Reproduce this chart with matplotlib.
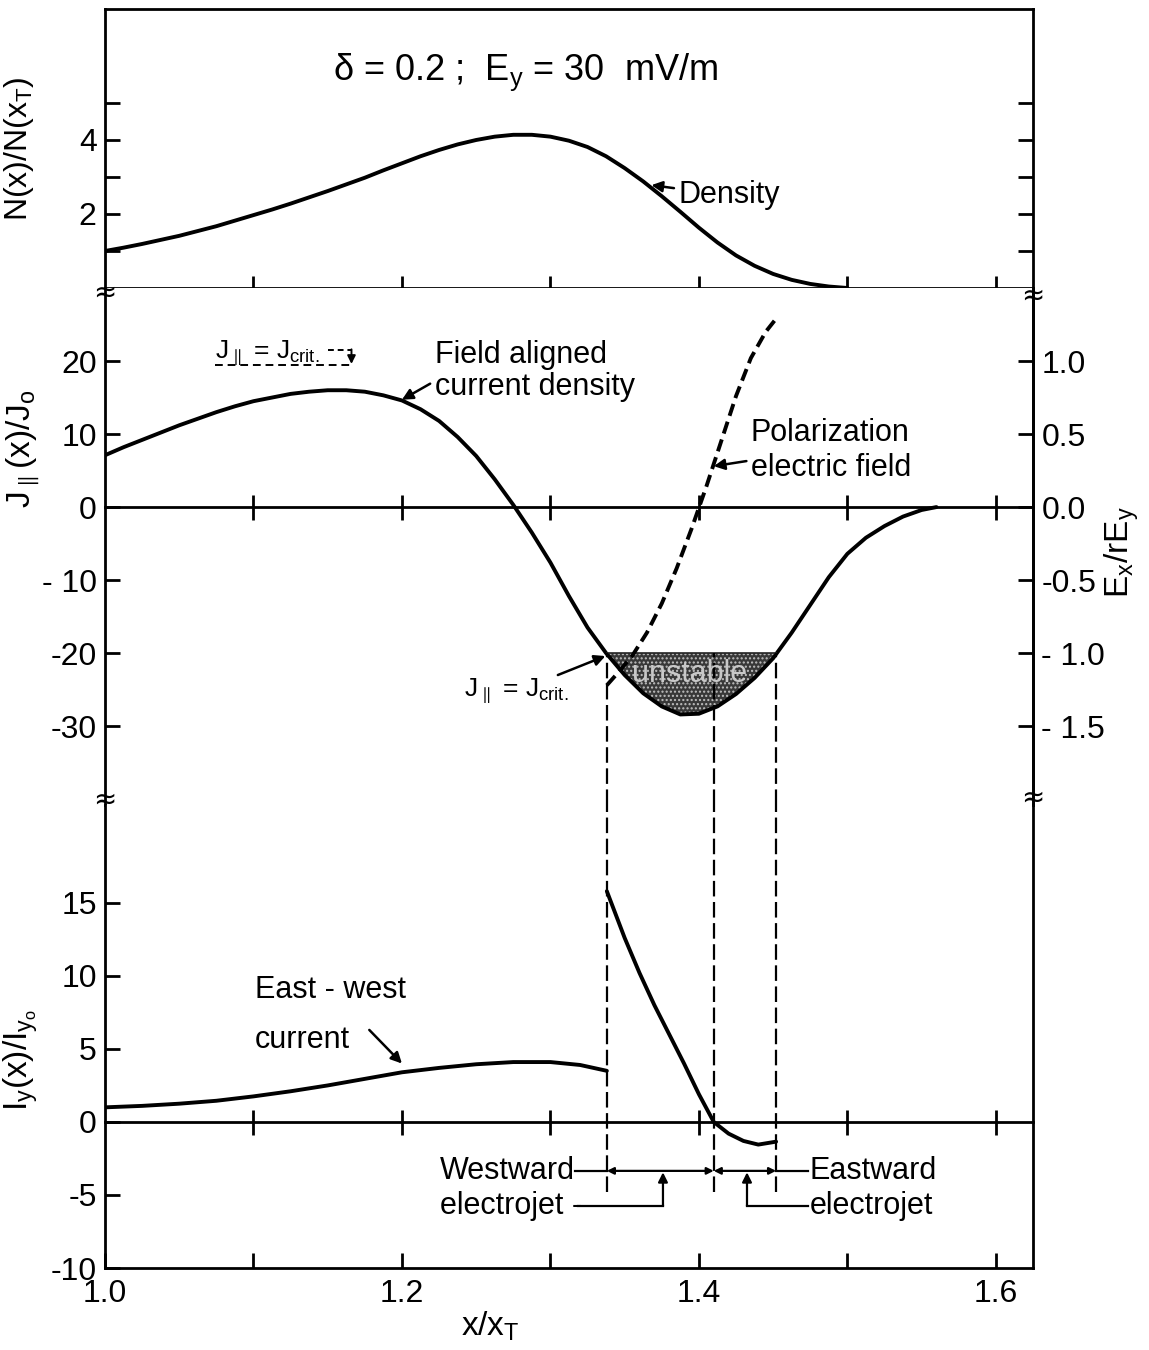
import matplotlib
matplotlib.use('Agg')
import matplotlib.pyplot as plt
import numpy as np

plt.rcParams['font.family'] = ['Liberation Sans', 'DejaVu Sans']
plt.rcParams['mathtext.default'] = 'regular'
plt.rcParams['hatch.linewidth'] = 1.0

# ---------------- data ----------------
dens_x = [1.000, 1.0125, 1.025, 1.0375, 1.050, 1.0625, 1.075, 1.0875, 1.100, 1.1125,
          1.125, 1.1375, 1.150, 1.1625, 1.175, 1.1875, 1.200, 1.2125, 1.225, 1.2375,
          1.250, 1.2625, 1.275, 1.2875, 1.300, 1.3125, 1.325, 1.3375, 1.350, 1.3625,
          1.375, 1.3875, 1.400, 1.4125, 1.425, 1.4375, 1.450, 1.4625, 1.475, 1.4875,
          1.500]
dens_n = [1.00, 1.09, 1.19, 1.30, 1.41, 1.54, 1.67, 1.82, 1.97, 2.12,
          2.28, 2.45, 2.62, 2.80, 2.98, 3.18, 3.37, 3.56, 3.73, 3.88,
          4.00, 4.09, 4.14, 4.14, 4.09, 3.98, 3.81, 3.56, 3.24, 2.88,
          2.48, 2.06, 1.63, 1.23, 0.88, 0.60, 0.38, 0.22, 0.11, 0.04,
          0.00]

j_x = [1.000, 1.0125, 1.025, 1.0375, 1.050, 1.0625, 1.075, 1.0875, 1.100, 1.1125,
       1.125, 1.1375, 1.150, 1.1625, 1.175, 1.1875, 1.200, 1.2125, 1.225, 1.2375,
       1.250, 1.2625, 1.275, 1.2875, 1.300, 1.3125, 1.325, 1.3375, 1.350, 1.3625,
       1.375, 1.3875, 1.400, 1.4125, 1.425, 1.4375, 1.450, 1.4625, 1.475, 1.4875,
       1.500, 1.5125, 1.525, 1.5375, 1.550, 1.560]
j_val = [7.1, 8.2, 9.2, 10.2, 11.2, 12.1, 13.0, 13.8, 14.5, 15.0,
         15.5, 15.8, 16.0, 16.0, 15.8, 15.3, 14.6, 13.4, 11.8, 9.6,
         7.0, 3.8, 0.3, -3.5, -7.6, -12.2, -16.5, -20.0, -23.0, -25.5,
         -27.3, -28.4, -28.3, -27.3, -25.6, -23.4, -20.7, -17.2, -13.4, -9.6,
         -6.4, -4.2, -2.6, -1.3, -0.4, 0.0]
j_crit = -20.0

e_x = [1.338, 1.345, 1.355, 1.365, 1.375, 1.385, 1.395, 1.405, 1.415, 1.425,
       1.435, 1.445, 1.452]
e_val = [-1.22, -1.14, -1.02, -0.86, -0.66, -0.42, -0.15, 0.14, 0.45, 0.76,
         1.02, 1.20, 1.29]

iy_west_x = [1.000, 1.025, 1.050, 1.075, 1.100, 1.125, 1.150, 1.175, 1.200, 1.225,
             1.250, 1.275, 1.300, 1.320, 1.338]
iy_west = [1.0, 1.1, 1.25, 1.45, 1.75, 2.1, 2.5, 2.95, 3.4, 3.7,
           3.95, 4.1, 4.1, 3.9, 3.5]
iy_east_x = [1.338, 1.350, 1.360, 1.370, 1.380, 1.390, 1.400, 1.410, 1.420, 1.430,
             1.440, 1.452]
iy_east = [15.8, 12.6, 10.2, 8.0, 6.0, 4.0, 1.9, 0.0, -0.8, -1.3, -1.55, -1.35]

boundaries = [1.338, 1.410, 1.452]

x_ticks = [1.1, 1.2, 1.3, 1.4, 1.5, 1.6]
x_ticks_bottom = [1.0, 1.1, 1.2, 1.3, 1.4, 1.5, 1.6]
x_ticklabels_bottom = ['1.0', '', '1.2', '', '1.4', '', '1.6']
n_ticks = [1, 2, 3, 4, 5]
n_ticklabels = ['', '2', '', '4', '']
j_ticks = [-30, -20, -10, 0, 10, 20]
j_ticklabels = ['-30', '-20', '- 10', '0', '10', '20']
e_ticks = [-1.5, -1.0, -0.5, 0.0, 0.5, 1.0]
e_ticklabels = ['- 1.5', '- 1.0', '-0.5', '0.0', '0.5', '1.0']
i_ticks = [-10, -5, 0, 5, 10, 15]
i_ticklabels = ['-10', '-5', '0', '5', '10', '15']

# ---------------- layout ----------------
XLIM = (1.0, 1.625)
N_LIM = (0, 7.54)
J_LIM = (-40.8, 30.0)
I_LIM = (-10, 21.7)

fig = plt.figure(figsize=(11.49, 13.5), dpi=100)
L, W = 0.0914, 0.8076
ax1 = fig.add_axes([L, 0.78667, W, 0.20667])
ax2 = fig.add_axes([L, 0.40370, W, 0.38296])
ax3 = fig.add_axes([L, 0.06074, W, 0.34296])

SW = 2.0
LW = 2.8
FS_T = 23
FS_A = 22
ARW = dict(arrowstyle='-|>', lw=1.8, color='k', mutation_scale=16, shrinkA=0, shrinkB=0)

for ax in (ax1, ax2, ax3):
    ax.set_xlim(*XLIM)
    for s in ax.spines.values():
        s.set_linewidth(SW)

# ---- top panel: density ----
ax1.plot(dens_x, dens_n, color='k', lw=LW, solid_capstyle='round')
ax1.set_ylim(*N_LIM)
ax1.set_yticks(n_ticks)
ax1.set_yticklabels(n_ticklabels)
ax1.tick_params(axis='y', direction='in', length=11, width=SW, left=True, right=True,
                labelsize=FS_T, pad=6)
ax1.set_xticks(x_ticks)
ax1.tick_params(axis='x', direction='inout', length=18, width=SW, top=False,
                labelbottom=False)
ax1.set_ylabel('N(x)/N(x$_T$)', fontsize=FS_A + 1)
ax1.yaxis.set_label_coords(-0.074, 0.5)
ax1.text(1.283, 5.84, r'$\delta$ = 0.2 ;  E$_y$ = 30  mV/m', fontsize=26,
         ha='center', va='center')
ax1.annotate('Density', xy=(1.368, 2.78), xytext=(1.386, 2.5), fontsize=FS_A,
             ha='left', va='center',
             arrowprops=dict(ARW, shrinkA=1))

# ---- middle panel: field-aligned current ----
ax2.set_ylim(*J_LIM)
ax2.plot(j_x, j_val, color='k', lw=LW, solid_capstyle='round')
jx = np.array(j_x)
jv = np.array(j_val)
ax2.fill_between(jx, jv, j_crit, where=jv < j_crit, interpolate=True,
                 facecolor='#383838', edgecolor='#c0c0c0', hatch='....', lw=0)
ax2.plot([boundaries[0], boundaries[2]], [j_crit, j_crit], color='#222222', lw=1.2)
ax2.text(1.394, -22.9, 'unstable', fontsize=FS_A, ha='center', va='center',
         color='#c8c8c8')
ax2.spines['top'].set_visible(False)
ax2.spines['bottom'].set_position(('data', 0))
ax2.set_xticks(x_ticks)
ax2.tick_params(axis='x', direction='inout', length=18, width=SW, labelbottom=False)
ax2.set_yticks(j_ticks)
ax2.set_yticklabels(j_ticklabels)
ax2.tick_params(axis='y', direction='in', length=11, width=SW, right=False,
                labelsize=FS_T, pad=6)
ax2.set_ylabel(r'J$_{\parallel}$(x)/J$_o$', fontsize=FS_A + 2)
ax2.yaxis.set_label_coords(-0.068, 0.69)
ax2.vlines(boundaries, J_LIM[0], j_crit, colors='k', lw=1.6,
           linestyles=(0, (7, 2.5)))

ax2r = ax2.twinx()
ax2r.set_ylim(J_LIM[0] / 20.0, J_LIM[1] / 20.0)
ax2r.plot(e_x, e_val, color='k', lw=LW, linestyle=(0, (3.2, 1.6)))
for k in ('top', 'bottom', 'left'):
    ax2r.spines[k].set_visible(False)
ax2r.spines['right'].set_linewidth(SW)
ax2r.set_yticks(e_ticks)
ax2r.set_yticklabels(e_ticklabels)
ax2r.tick_params(axis='y', direction='in', length=11, width=SW, labelsize=FS_T, pad=6)
ax2r.set_ylabel('E$_x$/rE$_y$', fontsize=FS_A + 2, rotation=90)
ax2r.yaxis.set_label_coords(1.075, 0.49)

# annotations in the middle panel
ax2.text(1.074, 21.2, r'J$_{\parallel}$ = J$_{crit.}$', fontsize=19, ha='left',
         va='center')
ax2.plot([1.074, 1.166], [19.4, 19.4], color='k', lw=1.4, linestyle=(0, (4, 2.5)))
ax2.plot([1.150, 1.166], [21.5, 21.5], color='k', lw=1.4, linestyle=(0, (3, 2)))
ax2.annotate('', xy=(1.166, 19.6), xytext=(1.166, 21.6),
             arrowprops=dict(ARW, lw=1.4, mutation_scale=12))
ax2.text(1.222, 20.8, 'Field aligned', fontsize=FS_A, ha='left', va='center')
ax2.text(1.222, 16.4, 'current density', fontsize=FS_A, ha='left', va='center')
ax2.annotate('', xy=(1.200, 14.7), xytext=(1.219, 16.9), arrowprops=ARW)
ax2.text(1.435, 10.1, 'Polarization', fontsize=FS_A, ha='left', va='center')
ax2.text(1.435, 5.3, 'electric field', fontsize=FS_A, ha='left', va='center')
ax2.annotate('', xy=(1.410, 5.6), xytext=(1.432, 6.3), arrowprops=ARW)
ax2.text(1.242, -25.1, r'J$_{\parallel}$ = J$_{crit.}$', fontsize=19, ha='left',
         va='center')
ax2.annotate('', xy=(1.337, -20.4), xytext=(1.305, -23.0), arrowprops=ARW)

# ---- bottom panel: east-west current ----
ax3.set_ylim(*I_LIM)
ax3.plot(iy_west_x, iy_west, color='k', lw=LW, solid_capstyle='round')
ax3.plot(iy_east_x, iy_east, color='k', lw=LW, solid_capstyle='round')
ax3.spines['top'].set_visible(False)
ax3.set_xticks(x_ticks_bottom)
ax3.set_xticklabels(x_ticklabels_bottom)
ax3.tick_params(axis='x', direction='in', length=11, width=SW, labelsize=FS_T, pad=8)
ax3.set_yticks(i_ticks)
ax3.set_yticklabels(i_ticklabels)
ax3.tick_params(axis='y', direction='in', length=11, width=SW, right=False,
                labelsize=FS_T, pad=6)
ax3.set_ylabel('I$_y$(x)/I$_{y_o}$', fontsize=FS_A + 2)
ax3.yaxis.set_label_coords(-0.07, 0.45)
ax3.set_xlabel('x/x$_T$', fontsize=FS_A + 2)
ax3.xaxis.set_label_coords(0.415, -0.09)
zero_frac = (0 - I_LIM[0]) / (I_LIM[1] - I_LIM[0])
sec = ax3.secondary_xaxis(zero_frac)
sec.spines['bottom'].set_linewidth(SW)
sec.spines['top'].set_linewidth(SW)
sec.set_xticks(x_ticks)
sec.tick_params(axis='x', direction='inout', length=18, width=SW,
                labeltop=False, labelbottom=False)
ax3.vlines(boundaries, -4.8, I_LIM[1], colors='k', lw=1.6,
           linestyles=(0, (7, 2.5)))

ax3.text(1.101, 9.0, 'East - west', fontsize=FS_A, ha='left', va='center')
ax3.text(1.101, 5.6, 'current', fontsize=FS_A, ha='left', va='center')
ax3.annotate('', xy=(1.200, 4.0), xytext=(1.178, 6.3), arrowprops=ARW)

ydim = -3.35
ylow = -5.75
ax3.text(1.2256, ydim, 'Westward', fontsize=FS_A, ha='left', va='center')
ax3.text(1.2256, ylow, 'electrojet -', fontsize=FS_A, ha='left', va='center')
ax3.text(1.4745, ydim, 'Eastward', fontsize=FS_A, ha='left', va='center')
ax3.text(1.4745, ylow, 'electrojet', fontsize=FS_A, ha='left', va='center')
ax3.plot([1.3165, boundaries[0]], [ydim, ydim], color='k', lw=1.6)
ax3.plot([boundaries[2], 1.4735], [ydim, ydim], color='k', lw=1.6)
for a, b in ((boundaries[0], boundaries[1]), (boundaries[1], boundaries[2])):
    ax3.annotate('', xy=(a, ydim), xytext=(b, ydim),
                 arrowprops=dict(arrowstyle='<|-|>', lw=1.6, color='k',
                                 mutation_scale=10, shrinkA=0, shrinkB=0))
ax3.plot([1.3186, 1.3758], [ylow, ylow], color='k', lw=1.6)
ax3.annotate('', xy=(1.3758, ydim - 0.1), xytext=(1.3758, ylow),
             arrowprops=dict(ARW, lw=1.6, mutation_scale=14))
ax3.plot([1.4324, 1.4735], [ylow, ylow], color='k', lw=1.6)
ax3.annotate('', xy=(1.4324, ydim - 0.1), xytext=(1.4324, ylow),
             arrowprops=dict(ARW, lw=1.6, mutation_scale=14))

# axis-break marks
for (fx, fy) in ((0.0914, 1 - 293 / 1350), (0.899, 1 - 296 / 1350),
                 (0.0914, 1 - 800 / 1350), (0.899, 1 - 798 / 1350)):
    fig.text(fx, fy, '\u2248', fontsize=20, ha='center', va='center',
             family='DejaVu Sans')

fig.savefig('out.png', dpi=100)
